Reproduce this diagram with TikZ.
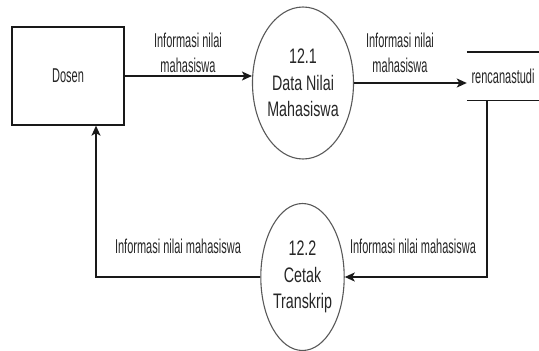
\documentclass[tikz,border=0pt]{standalone}
\usepackage{fontspec}
\setmainfont{Liberation Sans}[FakeStretch=0.55]
\newfontfamily\procfont{Liberation Sans}[FakeStretch=0.68]
\usetikzlibrary{shapes.geometric,arrows.meta,calc}
\begin{document}
\begin{tikzpicture}[x=1pt,y=-1pt,
  txt/.style={font=\fontsize{20}{25}\selectfont, text=black!85, align=center, inner sep=0pt},
  entity/.style={draw=black!90, line width=1.3pt, minimum width=112pt, minimum height=98pt, inner sep=0pt, txt},
  process/.style={ellipse, draw=black!65, line width=1.1pt, inner sep=0pt, txt, font=\procfont\fontsize{21}{26.5}\selectfont},
  flow/.style={draw=black!90, line width=1.4pt, -{Stealth[length=10pt,width=9pt,inset=2.5pt]}},
  plain/.style={draw=black!90, line width=1.4pt},
  lbl/.style={txt}]
  \useasboundingbox (0,0) rectangle (539,351);

  % external entity
  \node[entity] (dosen) at (68,76) {Dosen};

  % processes
  \node[process, minimum width=82pt, minimum height=152pt] (p1) at (303,83) {12.1\\Data Nilai\\Mahasiswa};
  \node[process, minimum width=82pt, minimum height=147pt] (p2) at (302.5,277) {12.2\\Cetak\\Transkrip};

  % data store
  \node[txt, minimum width=72pt, minimum height=48pt] (store) at (503,76) {rencanastudi};
  \draw[plain] (store.north west) -- (store.north east);
  \draw[plain] (store.south west) -- (store.south east);

  % flows
  \draw[flow] (dosen.east) -- (dosen.east -| p1.west);
  \draw[flow] (p1.east) -- (p1.east -| store.west);
  \draw[flow] ([xshift=20pt]store.south west) |- (p2.east);
  \draw[flow] (p2.west) -| ([xshift=28pt]dosen.south);

  % flow labels
  \node[lbl] (l1) at (188,53) {Informasi nilai\\mahasiswa};
  \node[lbl] (l2) at (400,53) {Informasi nilai\\mahasiswa};
  \node[lbl] (l3) at (178,246) {Informasi nilai mahasiswa};
  \node[lbl] (l4) at (413,246) {Informasi nilai mahasiswa};
\end{tikzpicture}
\end{document}
